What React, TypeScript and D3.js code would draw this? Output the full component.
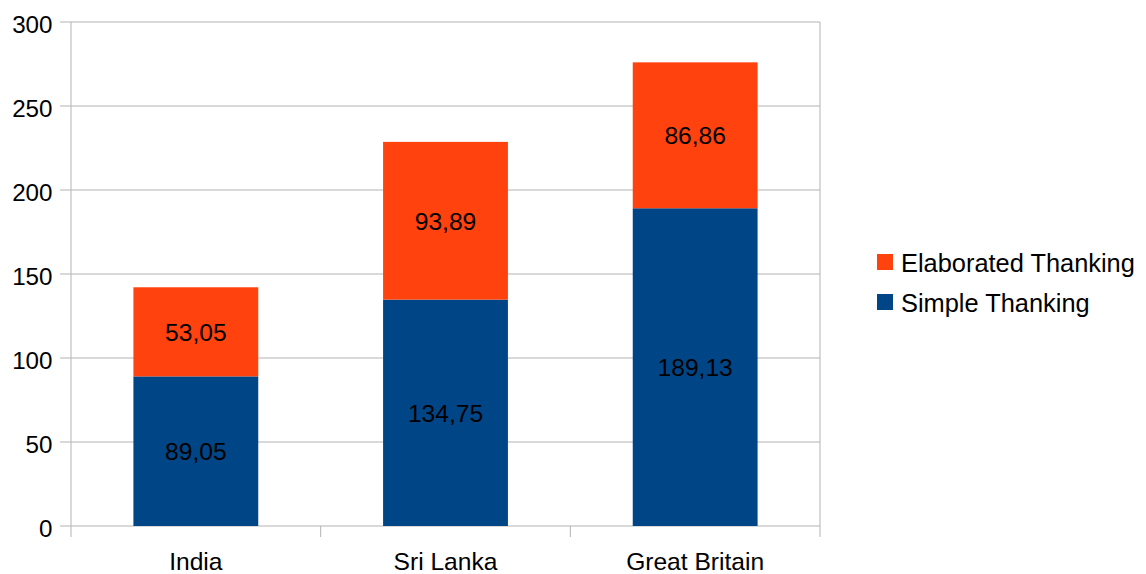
import React from "react";
import * as d3 from "d3";

const categories = ["India", "Sri Lanka", "Great Britain"];
const simpleThanking = [89.05, 134.75, 189.13];
const elaboratedThanking = [53.05, 93.89, 86.86];
const yTicks = [0, 50, 100, 150, 200, 250, 300];
const seriesNames = ["Simple Thanking", "Elaborated Thanking"];
const seriesColors = ["#004586", "#ff420e"];

const W = 1146;
const H = 574;
const plot = { left: 71, right: 820, top: 22, bottom: 526 };
const FONT = "'Liberation Sans', Arial, sans-serif";
const FS_AXIS = 24.2;
const FS_CAT = 24.6;
const FS_VALUE = 24.6;
const FS_LEGEND = 25.4;

const fmt = (v: number) => v.toFixed(2).replace(".", ",");

export default function App() {
  const x = d3
    .scaleBand<string>()
    .domain(categories)
    .range([plot.left, plot.right])
    .paddingInner(0.5)
    .paddingOuter(0.25);
  const xOuter = d3.scaleBand<string>().domain(categories).range([plot.left, plot.right]);
  const y = d3.scaleLinear().domain([0, 300]).range([plot.bottom, plot.top]);

  const rows = categories.map((c, i) => ({
    cat: c,
    simple: simpleThanking[i],
    elaborated: elaboratedThanking[i],
  }));
  const stacked = d3.stack<any>().keys(["simple", "elaborated"])(rows);

  const boundaries = [...categories.map((c) => xOuter(c)!), plot.right];

  return (
    <svg
      width={W}
      height={H}
      style={{ position: "absolute", left: 0, top: 0, background: "#fff" }}
      fontFamily={FONT}
    >
      {/* horizontal grid lines and y ticks */}
      {yTicks.map((t) => (
        <g key={t}>
          <line x1={plot.left} x2={plot.right} y1={y(t)} y2={y(t)} stroke="#b3b3b3" strokeWidth={1} />
          <line x1={60} x2={plot.left} y1={y(t)} y2={y(t)} stroke="#b3b3b3" strokeWidth={1} />
          <text x={52.5} y={y(t) + 11} textAnchor="end" fontSize={FS_AXIS} fill="#000">
            {t}
          </text>
        </g>
      ))}
      {/* plot frame verticals */}
      <line x1={plot.left} x2={plot.left} y1={plot.top} y2={plot.bottom} stroke="#b3b3b3" />
      <line x1={plot.right} x2={plot.right} y1={plot.top} y2={plot.bottom} stroke="#b3b3b3" />
      {/* category boundary ticks */}
      {boundaries.map((b, i) => (
        <line key={i} x1={b} x2={b} y1={plot.bottom} y2={plot.bottom + 11} stroke="#b3b3b3" />
      ))}
      {/* stacked bars */}
      {stacked.map((s, si) => (
        <g key={s.key}>
          {s.map((d, i) => (
            <rect
              key={i}
              x={x(categories[i])}
              width={x.bandwidth()}
              y={y(d[1])}
              height={y(d[0]) - y(d[1])}
              fill={seriesColors[si]}
            />
          ))}
        </g>
      ))}
      {/* value labels */}
      {stacked.map((s) =>
        s.map((d, i) => (
          <text
            key={s.key + i}
            x={x(categories[i])! + x.bandwidth() / 2}
            y={(y(d[0]) + y(d[1])) / 2 + 8.8}
            textAnchor="middle"
            fontSize={FS_VALUE}
            fill="#000"
          >
            {fmt(d[1] - d[0])}
          </text>
        ))
      )}
      {/* category labels */}
      {categories.map((c) => (
        <text
          key={c}
          x={xOuter(c)! + xOuter.bandwidth() / 2}
          y={plot.bottom + 44}
          textAnchor="middle"
          fontSize={FS_CAT}
          fill="#000"
        >
          {c}
        </text>
      ))}
      {/* legend */}
      {[1, 0].map((si, row) => (
        <g key={si}>
          <rect x={877} y={254 + row * 40} width={16} height={16} fill={seriesColors[si]} />
          <text x={901} y={262 + row * 40 + 10} fontSize={FS_LEGEND} fill="#000">
            {seriesNames[si]}
          </text>
        </g>
      ))}
    </svg>
  );
}
